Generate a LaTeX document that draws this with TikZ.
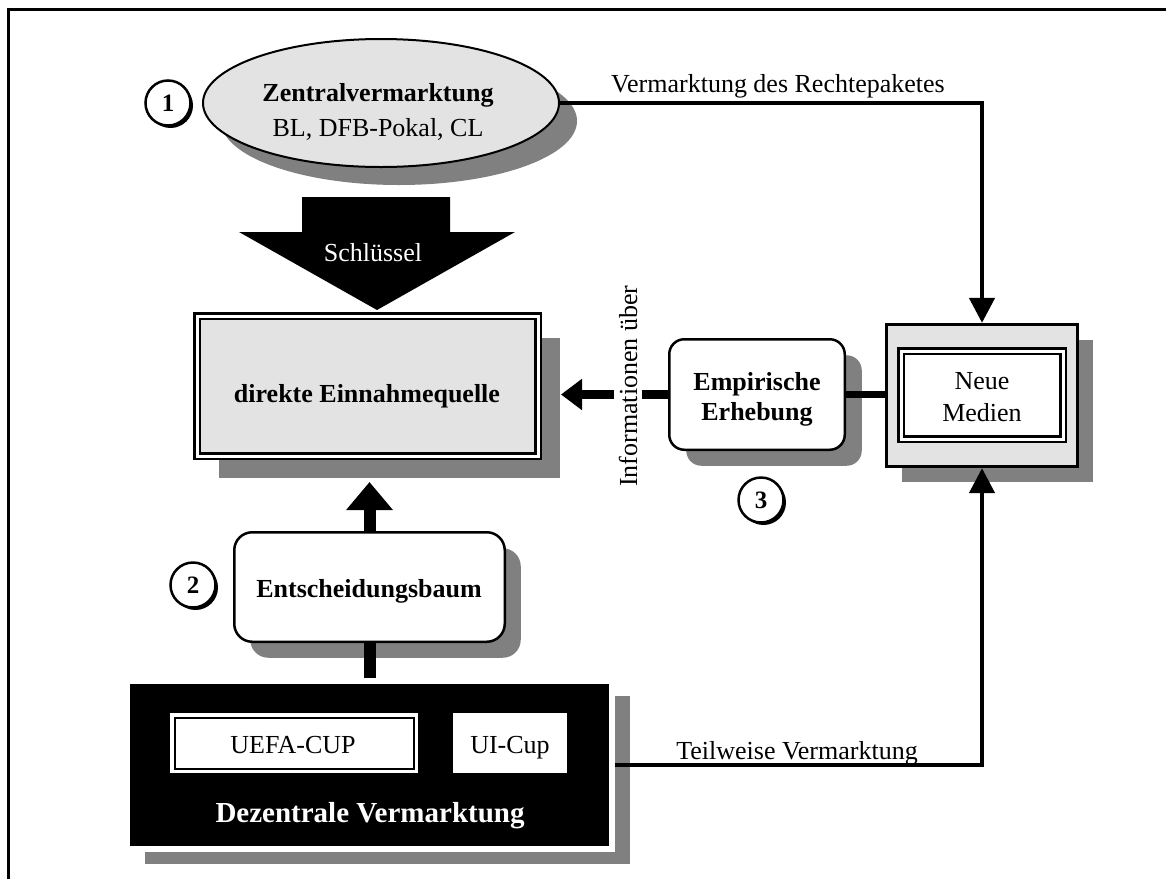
\documentclass[tikz,border=0pt]{standalone}
\usepackage{fontspec}
\setmainfont{Liberation Serif}
\usetikzlibrary{shapes.geometric,shadows,arrows.meta}
\definecolor{boxgray}{HTML}{E3E3E3}
\definecolor{shadowgray}{HTML}{808080}
\begin{document}
\begin{tikzpicture}[x=1pt,y=-1pt,
  txt/.style={font=\fontsize{26}{31}\selectfont, inner sep=0pt},
  btxt/.style={inner sep=0pt, font=\fontsize{26}{31}\selectfont\bfseries},
  castshadow/.style 2 args={drop shadow={shadow xshift=#1pt,shadow yshift=-#2pt,fill=shadowgray,opacity=1}},
  roundbox/.style={draw, line width=2.5pt, fill=white, rounded corners=18pt, inner sep=0pt},
  num/.style={circle, draw, line width=2.5pt, fill=white, minimum size=45pt, inner sep=0pt,
    font=\fontsize{25}{30}\selectfont\bfseries,
    drop shadow={shadow xshift=2.5pt,shadow yshift=-2.5pt,fill=black,opacity=1}},
  link/.style={line width=4.5pt},
  tip/.style={-{Triangle[length=25pt,width=25pt]}},
]
\useasboundingbox (0,0) rectangle (1166,879);

% outer frame
\draw[line width=2.5pt] (8.7,879) -- (8.7,9.3) -- (1166,9.3);

% central marketing
\node[ellipse, draw, line width=2pt, fill=boxgray, minimum width=356pt, minimum height=128pt,
      inner sep=0pt, castshadow={18}{18}] (zv) at (381,103) {};
\node[btxt, anchor=base] (zvt) at (378,101) {Zentralvermarktung};
\node[txt, anchor=base] (zvs) at (378,136) {BL, DFB-Pokal, CL};
\node[num] (n1) at (168,103) {1};

% direct revenue box
\node[draw, double, line width=2.5pt, double distance=3pt, fill=boxgray, minimum width=341pt,
      minimum height=140pt, inner sep=0pt, castshadow={22}{22}] (dir) at (367.5,386) {};
\node[btxt, anchor=base] (dirt) at (367,402) {direkte Einnahmequelle};

% key arrow
\fill (302,197) -- (450,197) -- (450,232) -- (515,232) -- (377,310) -- (239,232) -- (302,232) -- cycle;
\node[txt, text=white, anchor=base] (key) at (373,261) {Schlüssel};

% empirical survey
\node[roundbox, rounded corners=15pt, minimum width=175.5pt, minimum height=110.5pt,
      castshadow={17}{16}] (emp) at (757,394.5) {};
\node[btxt, anchor=base] (empa) at (757,390) {Empirische};
\node[btxt, anchor=base] (empb) at (757,420) {Erhebung};
\node[num] (n3) at (761,500) {3};

% new media
\node[draw, line width=3.3pt, fill=boxgray, minimum width=191pt, minimum height=142pt, inner sep=0pt,
      castshadow={15}{15}] (nm) at (982,395.5) {};
\node[draw, double, line width=2.5pt, double distance=3pt, fill=white, minimum width=162pt,
      minimum height=88pt, inner sep=0pt] (nmi) at (982,395) {};
\node[txt, anchor=base] (nma) at (982,389) {Neue};
\node[txt, anchor=base] (nmb) at (982,421) {Medien};

% decision tree
\node[roundbox, minimum width=270.5pt, minimum height=109.5pt, castshadow={16}{16}] (ent) at (369.5,587) {};
\node[btxt, anchor=base] (entt) at (369,597) {Entscheidungsbaum};
\node[num] (n2) at (193,585) {2};

% decentral marketing
\node[draw=white, line width=6pt, fill=black, minimum width=485pt, minimum height=168pt, inner sep=0pt,
      castshadow={18}{15}] (blk) at (369.5,765) {};
\node[draw=white, double=black, line width=3.5pt, double distance=2pt, fill=white,
      minimum width=239pt, minimum height=51pt, inner sep=0pt] (uefa) at (294,743) {};
\node[txt, anchor=base] (uefat) at (293,753) {UEFA-CUP};
\node[fill=white, minimum width=114pt, minimum height=60pt, inner sep=0pt] (ui) at (510,743) {};
\node[txt, anchor=base] (uit) at (510,753) {UI-Cup};
\node[inner sep=0pt, font=\fontsize{29}{34}\selectfont\bfseries, text=white, anchor=base] (blkt) at (370,822) {Dezentrale Vermarktung};

% connectors
\coordinate (dirfoot) at (371,482);
\coordinate (infoend) at (561,394.5);
\draw[link, tip] (zv.east) -| (nm.north);
\node[txt, anchor=base] (vr) at (778,92) {Vermarktung des Rechtepaketes};
\draw[link, tip] (blk.east) -| (nm.south);
\node[txt, anchor=base] (tv) at (797,759) {Teilweise Vermarktung};
\draw[line width=7pt] (emp.east) -- (emp.east -| nm.west);
\draw[line width=9pt, -{Triangle[length=21pt,width=30pt]}] (emp.west) -- (infoend);
\node[txt, fill=white, inner sep=5pt, rotate=90, anchor=base west] (info) at (637,492) {Informationen über};
\draw[line width=12pt, -{Triangle[length=28pt,width=45pt]}] (ent.north) -- (ent.north |- dirfoot);
\draw[line width=12pt] (ent.south) -- (blk.north);
\end{tikzpicture}
\end{document}
